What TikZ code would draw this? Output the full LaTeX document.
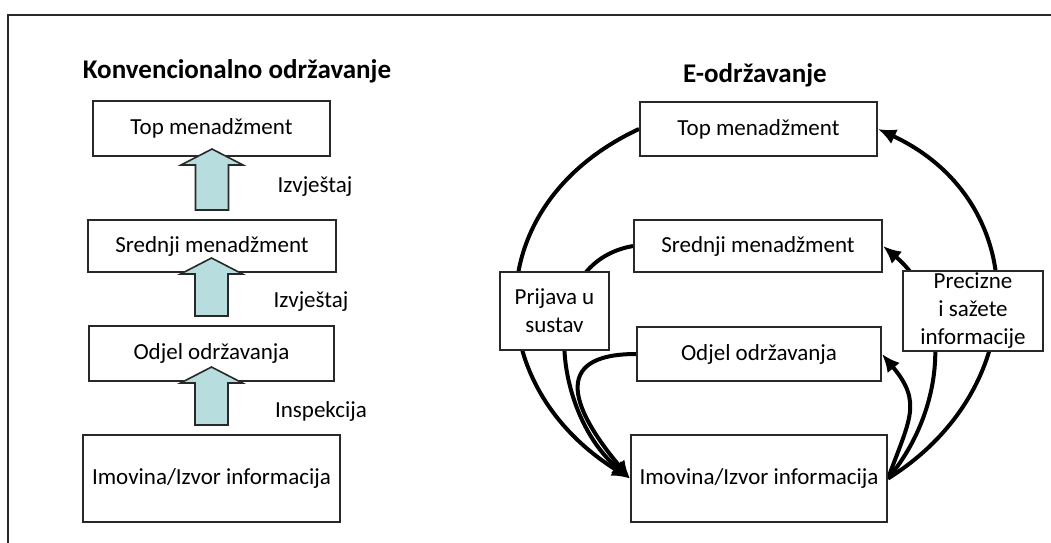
\documentclass[tikz,border=0pt]{standalone}
\usepackage{fontspec}
\setmainfont{Carlito}
\usetikzlibrary{arrows.meta,calc,backgrounds}
\definecolor{arrowfill}{RGB}{183,221,222}
\definecolor{boxline}{RGB}{40,40,40}
% block arrow from the top of #1 up into the bottom of #2, tip #3 pt inside
\newcommand{\fatarrow}[3]{%
  \draw[fatarrow] let \p1=(#1.north), \p2=(#2.south) in
    (\x1-16.5pt,\y1+9pt) -- (\x1+16.5pt,\y1+9pt) -- (\x1+16.5pt,\y2+#3pt-16pt)
    -- (\x1+31pt,\y2+#3pt-16pt) -- (\x1,\y2+#3pt) -- (\x1-31pt,\y2+#3pt-16pt)
    -- (\x1-16.5pt,\y2+#3pt-16pt) -- cycle;}

\begin{document}
\begin{tikzpicture}[x=1pt, y=-1pt,
  every node/.style={font=\fontsize{23}{28}\selectfont},
  box/.style={draw=boxline, line width=2pt, fill=white, inner sep=0pt, align=center},
  title/.style={font=\fontsize{27}{32}\selectfont\bfseries, anchor=base},
  fatarrow/.style={draw=boxline, line width=1.6pt, fill=arrowfill},
  flow/.style={line width=4pt, -{Latex[length=18pt,width=16pt]}}]
\useasboundingbox (0,0) rectangle (1051,542);
\draw[line width=2pt, draw=boxline] (8,550) -- (8,15) -- (1060,15);

% Konvencionalno
\node[title] (titleL) at (237,78) {Konvencionalno održavanje};
\node[box, minimum width=237, minimum height=55] (topL) at (211.5,128.5) {Top menadžment};
\node[box, minimum width=248, minimum height=52] (srL) at (212,246) {Srednji menadžment};
\node[box, minimum width=245, minimum height=55] (odL) at (211.5,353.5) {Odjel održavanja};
\node[box, minimum width=257, minimum height=87] (imL) at (211.5,478.5) {Imovina/Izvor informacija};
\fatarrow{srL}{topL}{8}
\fatarrow{odL}{srL}{15}
\fatarrow{imL}{odL}{15}
\node (izv1) at (315,187) {Izvještaj};
\node (izv2) at (311,302) {Izvještaj};
\node (insp) at (321,411) {Inspekcija};

% E-odrzavanje
\node[title] (titleR) at (755,82) {E-održavanje};
\node[box, minimum width=237, minimum height=54] (topR) at (758.5,129) {Top menadžment};
\node[box, minimum width=248, minimum height=52] (srR) at (758,246) {Srednji menadžment};
\node[box, minimum width=244, minimum height=54] (odR) at (759,354) {Odjel održavanja};
\node[box, minimum width=256, minimum height=87] (imR) at (759,478.5) {Imovina/Izvor informacija};
\node[box, minimum width=109, minimum height=78] (prijava) at (554.5,311) {Prijava u\\sustav};
\node[box, minimum width=140, minimum height=80] (precizne) at (973,311) {Precizne\\i sažete\\informacije};

\begin{scope}[on background layer]
\draw[flow] (topR.west) to[out=205,in=148,looseness=1.3] (imR.west);
\draw[flow] (srR.west) to[out=190,in=140,looseness=1.1] (imR.west);
\draw[flow] (odR.west) to[out=180,in=130,looseness=1.8] (imR.west);
\draw[flow] (imR.east) to[out=32,in=-25,looseness=1.25] (topR.east);
\draw[flow] (imR.east) to[out=50,in=-40] (srR.east);
\draw[flow] (imR.east) to[out=70,in=-50,looseness=1.3] (odR.east);
\end{scope}
\end{tikzpicture}
\end{document}
